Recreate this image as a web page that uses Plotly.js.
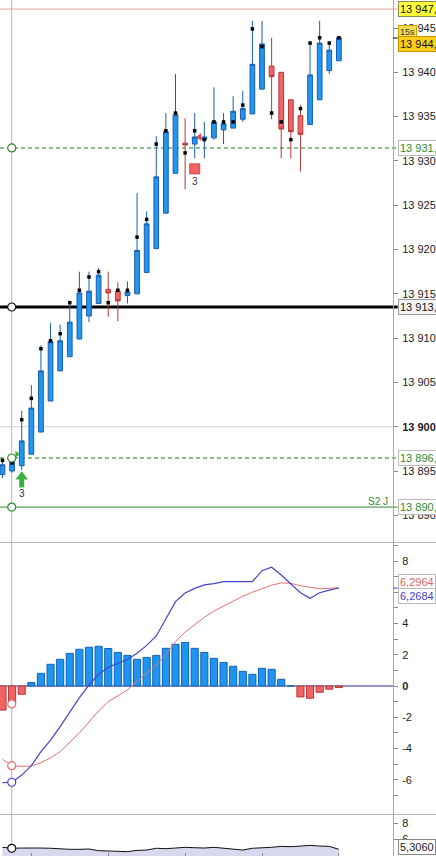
<!DOCTYPE html>
<html>
<head>
<meta charset="utf-8">
<script src="https://cdn.plot.ly/plotly-3.0.1.min.js"></script>
<style>html,body{margin:0;padding:0;background:#fff;}#chart{width:436px;height:856px;}</style>
</head>
<body>
<div id="chart"></div>
<script>
// ---- data ----
const bars = [0,1,2,3,4,5,6,7,8,9,10,11,12,13,14,15,16,17,18,19,20,21,22,23,24,25,26,27,28,29,30,31,32,33,34,35];
const openP  = [13894.6,13895.0,13895.6,13896.9,13899.4,13902.9,13906.3,13907.9,13909.9,13912.5,13913.9,13915.5,13915.3,13914.8,13915.0,13917.4,13920.1,13924.1,13928.6,13932.0,13931.9,13932.4,13932.6,13933.5,13933.7,13934.7,13935.3,13938.1,13940.7,13940.0,13936.9,13935.1,13934.1,13936.9,13940.2,13941.3];
const highP  = [13896.3,13896.6,13901.8,13904.7,13909.2,13911.7,13911.5,13914.0,13917.5,13917.5,13917.9,13917.5,13916.3,13916.4,13926.4,13924.3,13932.8,13935.4,13939.8,13934.8,13935.4,13934.4,13938.3,13935.4,13937.3,13937.9,13945.8,13945.8,13943.9,13940.0,13936.9,13936.3,13943.3,13945.8,13943.3,13943.9];
const lowP   = [13894.2,13894.8,13895.1,13896.9,13899.4,13902.9,13906.3,13907.9,13909.9,13911.8,13913.9,13912.4,13911.9,13913.9,13915.0,13917.4,13920.1,13924.1,13928.6,13926.8,13930.3,13930.3,13932.4,13931.9,13933.7,13934.4,13935.3,13938.1,13934.7,13930.3,13930.3,13928.8,13934.1,13936.9,13939.8,13941.3];
const closeP = [13895.7,13896.2,13898.4,13902.1,13906.3,13909.6,13909.7,13911.8,13915.1,13915.3,13917.1,13915.1,13914.2,13915.2,13919.9,13922.9,13928.2,13933.3,13935.2,13931.8,13932.7,13932.7,13934.4,13934.2,13935.6,13935.9,13940.9,13943.2,13939.5,13933.6,13933.3,13933.0,13939.7,13943.3,13942.5,13943.9];
const dots   = [13896.2,13895.9,13900.8,13903.2,13908.8,13909.7,13910.5,13914.0,13915.4,13916.9,13917.5,13914.0,13915.4,13915.4,13921.4,13923.4,13931.9,13933.4,13935.4,13930.9,13933.4,13932.4,13934.4,13934.4,13934.4,13936.3,13944.9,13942.9,13935.4,13934.4,13932.4,13935.9,13943.3,13943.9,13943.3,13943.9];

const macdHist = [-1.54,-1.09,-0.53,0.22,0.81,1.39,1.71,2.09,2.35,2.48,2.54,2.40,2.15,1.96,1.71,1.83,1.96,2.41,2.67,2.79,2.41,2.15,1.77,1.51,1.26,0.94,0.75,1.13,1.07,0.43,0.0,-0.70,-0.78,-0.40,-0.20,-0.10];
const macdLine = [-6.19,-6.16,-5.70,-5.10,-4.20,-3.46,-2.60,-1.70,-0.75,0.05,0.75,1.20,1.45,1.70,2.10,2.60,3.20,4.30,5.40,5.95,6.25,6.47,6.55,6.68,6.68,6.68,6.68,7.38,7.60,7.10,6.55,5.97,5.61,5.97,6.14,6.27];
const signalLine = [-4.70,-5.10,-5.15,-5.12,-4.90,-4.60,-4.20,-3.60,-3.00,-2.30,-1.60,-1.00,-0.60,-0.25,0.30,0.85,1.35,2.00,2.85,3.45,3.95,4.40,4.80,5.12,5.45,5.75,6.00,6.25,6.45,6.60,6.57,6.42,6.30,6.22,6.25,6.30];
const lowerInd = [4.96,4.84,4.87,4.91,4.87,4.84,4.75,4.71,4.71,4.75,4.54,4.50,4.50,4.42,4.58,4.62,4.84,4.79,4.87,4.96,4.91,4.87,4.96,4.87,4.75,4.62,4.84,4.87,4.96,5.08,5.04,5.12,5.20,5.12,5.08,4.71];

const priceTicks = [13890,13895,13900,13905,13910,13915,13920,13925,13930,13935,13940,13945];
const priceTickText = ['13 890','13 895','<b>13 900</b>','13 905','13 910','13 915','13 920','13 925','13 930','13 935','13 940','13 945'];
const macdTicks = [-7,-6,-5,-4,-3,-2,-1,0,1,2,3,4,5,6,7,8,9];
const macdTickText = ['','-6','','-4','','-2','','<b>0</b>','','2','','4','','','','8',''];
const lowerTicks = [6,8];
const lowerTickText = ['6','8'];

const levelHigh = 13947.14;   // pink line
const levelR = 13931.46;      // green dashed
const levelPivot = 13913.51;  // black thick
const levelS1 = 13896.47;     // green dashed
const levelS2 = 13890.93;     // green solid
const gridLevel = 13900;
const crossX = 0.96;
const lastPrice = 13943.87;
const xTicks = [3,11,19,27,35];

// ---- styling ----
const BLUE = '#2196F3', BLUE_LINE = '#1A5DAB';
const RED = '#F26464', RED_LINE = '#B3393A';
const GREEN = '#2E8B2E';
const ARROW_GREEN = '#3CB043';
const FONT = 'Liberation Sans, Arial, sans-serif';

const traces = [
  {
    type: 'candlestick', x: bars, open: openP, high: highP, low: lowP, close: closeP,
    xaxis: 'x', yaxis: 'y',
    increasing: {fillcolor: BLUE, line: {color: BLUE_LINE, width: 1}},
    decreasing: {fillcolor: RED, line: {color: RED_LINE, width: 1}},
    whiskerwidth: 0, hoverinfo: 'skip', showlegend: false
  },
  {
    type: 'scatter', mode: 'markers', x: bars, y: dots, xaxis: 'x', yaxis: 'y',
    marker: {symbol: 'square', size: 3.5, color: '#000'}, hoverinfo: 'skip', showlegend: false
  },
  // signal markers
  {
    type: 'scatter', mode: 'markers', x: [20], y: [13929.1], xaxis: 'x', yaxis: 'y',
    marker: {symbol: 'square', size: 10, color: RED, line: {color: '#C84848', width: 1}}, showlegend: false, hoverinfo: 'skip'
  },
  {
    type: 'scatter', mode: 'markers', x: [20.5], y: [13932.7], xaxis: 'x', yaxis: 'y',
    marker: {symbol: 'triangle-left', size: 7, color: '#E05050'}, showlegend: false, hoverinfo: 'skip'
  },
  {
    type: 'scatter', mode: 'markers', x: [1.5], y: [13896.9], xaxis: 'x', yaxis: 'y',
    marker: {symbol: 'triangle-right', size: 6, color: ARROW_GREEN}, showlegend: false, hoverinfo: 'skip'
  },
  // green buy arrow: stem + head
  {
    type: 'scatter', mode: 'lines', x: [2, 2], y: [13893.15, 13894.1], xaxis: 'x', yaxis: 'y',
    line: {color: ARROW_GREEN, width: 5}, showlegend: false, hoverinfo: 'skip'
  },
  {
    type: 'scatter', mode: 'markers', x: [2], y: [13894.35], xaxis: 'x', yaxis: 'y',
    marker: {symbol: 'triangle-up', size: 11, color: ARROW_GREEN}, showlegend: false, hoverinfo: 'skip'
  },
  // crosshair circles on price levels
  {
    type: 'scatter', mode: 'markers', x: [crossX, crossX, crossX, crossX], y: [levelR, levelPivot, levelS1, levelS2],
    xaxis: 'x', yaxis: 'y',
    marker: {symbol: 'circle', size: 8, color: '#fff', line: {color: [GREEN, '#111', GREEN, GREEN], width: 1.2}},
    showlegend: false, hoverinfo: 'skip'
  },
  // MACD histogram
  {
    type: 'bar', x: bars, y: macdHist, xaxis: 'x', yaxis: 'y2', width: 0.74,
    marker: {color: macdHist.map(v => v >= 0 ? '#1E96F0' : RED),
             line: {color: macdHist.map(v => v >= 0 ? '#1560B8' : RED_LINE), width: 1}},
    showlegend: false, hoverinfo: 'skip'
  },
  {
    type: 'scatter', mode: 'lines', x: bars, y: signalLine, xaxis: 'x', yaxis: 'y2',
    line: {color: '#E07272', width: 1}, showlegend: false, hoverinfo: 'skip'
  },
  {
    type: 'scatter', mode: 'lines', x: bars, y: macdLine, xaxis: 'x', yaxis: 'y2',
    line: {color: '#4444C8', width: 1.2}, showlegend: false, hoverinfo: 'skip'
  },
  {
    type: 'scatter', mode: 'markers', x: [crossX, crossX, crossX], y: [-1.15, -5.1, -6.16], xaxis: 'x', yaxis: 'y2',
    marker: {symbol: 'circle', size: 8, color: '#fff', line: {color: ['#E07272', '#E07272', '#4444C8'], width: 1.2}},
    showlegend: false, hoverinfo: 'skip'
  },
  // lower indicator
  {
    type: 'scatter', mode: 'lines', x: bars, y: lowerInd, xaxis: 'x', yaxis: 'y3',
    fill: 'tozeroy', fillcolor: '#D8D8EE', line: {color: '#111', width: 1}, showlegend: false, hoverinfo: 'skip'
  },
  {
    type: 'scatter', mode: 'markers', x: [crossX], y: [lowerInd[1]], xaxis: 'x', yaxis: 'y3',
    marker: {symbol: 'circle', size: 8, color: '#fff', line: {color: '#111', width: 1.2}}, showlegend: false, hoverinfo: 'skip'
  }
];

const axisCommon = {
  side: 'right', showgrid: false, zeroline: false, showline: true, linecolor: '#AAAAAA', linewidth: 1,
  ticks: 'outside', ticklen: 4, tickcolor: '#888', tickfont: {family: FONT, size: 11, color: '#222'},
  fixedrange: true, tickmode: 'array', ticklabelstandoff: 2
};

const boxLabel = (text, yref, y, color, bg, border, extra) => Object.assign({
  text: text, xref: 'paper', x: 1, xshift: 5, xanchor: 'left', yref: yref, y: y, yanchor: 'middle',
  showarrow: false, font: {family: FONT, size: 11, color: color}, bgcolor: bg, bordercolor: border,
  borderwidth: 1, borderpad: 1
}, extra || {});

const DASH = '4px,3px';

const layout = {
  width: 436, height: 856,
  margin: {l: 0, r: 43, t: 0, b: 0, pad: 0},
  paper_bgcolor: '#fff', plot_bgcolor: '#fff',
  font: {family: FONT, size: 11, color: '#222'},
  showlegend: false, bargap: 0,
  xaxis: {
    range: [-0.26, 40.63], anchor: 'y3', showgrid: false, zeroline: false, showline: false,
    rangeslider: {visible: false}, tickmode: 'array', tickvals: xTicks, ticks: 'inside', ticklen: 3,
    tickcolor: '#888', showticklabels: false, fixedrange: true
  },
  yaxis: Object.assign({}, axisCommon, {domain: [1 - 542/856, 1], range: [13886.99, 13948.16],
    tickvals: priceTicks, ticktext: priceTickText}),
  yaxis2: Object.assign({}, axisCommon, {domain: [1 - 815/856, 1 - 543/856], range: [-8.256, 9.152],
    tickvals: macdTicks, ticktext: macdTickText}),
  yaxis3: Object.assign({}, axisCommon, {domain: [0, 1 - 815/856], range: [3.875, 9],
    tickvals: lowerTicks, ticktext: lowerTickText}),
  shapes: [
    {type: 'line', xref: 'x', yref: 'paper', x0: crossX, x1: crossX, y0: 0, y1: 1, line: {color: '#E8A4A4', width: 1}, layer: 'below'},
    {type: 'line', xref: 'paper', yref: 'y', x0: 0, x1: 1.012, y0: levelHigh, y1: levelHigh, line: {color: '#E8A4A4', width: 1}, layer: 'below'},
    {type: 'line', xref: 'paper', yref: 'y', x0: 0, x1: 1, y0: gridLevel, y1: gridLevel, line: {color: '#D4D4D4', width: 1}, layer: 'below'},
    {type: 'line', xref: 'paper', yref: 'y', x0: 0, x1: 1.012, y0: levelR, y1: levelR, line: {color: '#237A23', width: 1, dash: DASH}, layer: 'below'},
    {type: 'line', xref: 'paper', yref: 'y', x0: 0, x1: 1.012, y0: levelPivot, y1: levelPivot, line: {color: '#000', width: 3}, layer: 'below'},
    {type: 'line', xref: 'paper', yref: 'y', x0: 0, x1: 1.012, y0: levelS1, y1: levelS1, line: {color: '#237A23', width: 1, dash: DASH}, layer: 'below'},
    {type: 'line', xref: 'paper', yref: 'y', x0: 0, x1: 1.012, y0: levelS2, y1: levelS2, line: {color: GREEN, width: 1}, layer: 'below'},
    {type: 'line', xref: 'paper', yref: 'y', x0: 1, x1: 1.012, y0: lastPrice, y1: lastPrice, line: {color: '#000', width: 1}},
    {type: 'line', xref: 'paper', yref: 'y2', x0: 0, x1: 1, y0: 0, y1: 0, line: {color: '#2A2A8A', width: 1}, layer: 'below'},
    {type: 'line', xref: 'paper', yref: 'y2', x0: 1, x1: 1.012, y0: macdLine[35], y1: macdLine[35], line: {color: '#4444C8', width: 1}},
    {type: 'line', xref: 'paper', yref: 'paper', x0: 0, x1: 1.11, y0: 1 - 542.5/856, y1: 1 - 542.5/856, line: {color: '#B8B8B8', width: 1}},
    {type: 'line', xref: 'paper', yref: 'paper', x0: 0, x1: 1.11, y0: 1 - 814.5/856, y1: 1 - 814.5/856, line: {color: '#B8B8B8', width: 1}}
  ],
  annotations: [
    boxLabel('13 947,', 'y', levelHigh, '#111', '#FFFF38', '#8A8A50'),
    boxLabel('15s', 'y', 13944.55, '#333', '#F6DE50', '#C8A400', {font: {family: FONT, size: 9, color: '#333'}, borderpad: 1}),
    boxLabel('13 944,', 'y', lastPrice, '#111', '#FFCE1A', '#C09400', {yshift: -6}),
    boxLabel('13 931,', 'y', levelR, GREEN, '#FFFFFF', '#BBBBBB'),
    boxLabel('13 913,', 'y', levelPivot, '#111', '#F6F6F6', '#999999'),
    boxLabel('13 896,', 'y', levelS1, GREEN, '#FFFFFF', '#BBBBBB'),
    boxLabel('13 890,', 'y', levelS2, GREEN, '#FFFFFF', '#BBBBBB'),
    {text: 'S2 J', xref: 'paper', x: 378/393, xanchor: 'center', yref: 'y', y: levelS2, yshift: 6, showarrow: false,
     font: {family: FONT, size: 10, color: GREEN}},
    boxLabel('6,2964', 'y2', 6.656, '#E06666', '#FFFFFF', '#BBBBBB'),
    boxLabel('6,2684', 'y2', 5.76, '#4444CC', '#FFFFFF', '#BBBBBB'),
    boxLabel('5,3060', 'y3', 5.0, '#222', '#FFFFFF', '#888888'),
    {text: '3', xref: 'x', x: 2, yref: 'y', y: 13892.5, showarrow: false, font: {family: FONT, size: 10, color: '#333'}},
    {text: '3', xref: 'x', x: 20, yref: 'y', y: 13927.7, showarrow: false, font: {family: FONT, size: 10, color: '#333'}}
  ]
};

Plotly.newPlot('chart', traces, layout, {staticPlot: true, displayModeBar: false});
</script>
</body>
</html>
